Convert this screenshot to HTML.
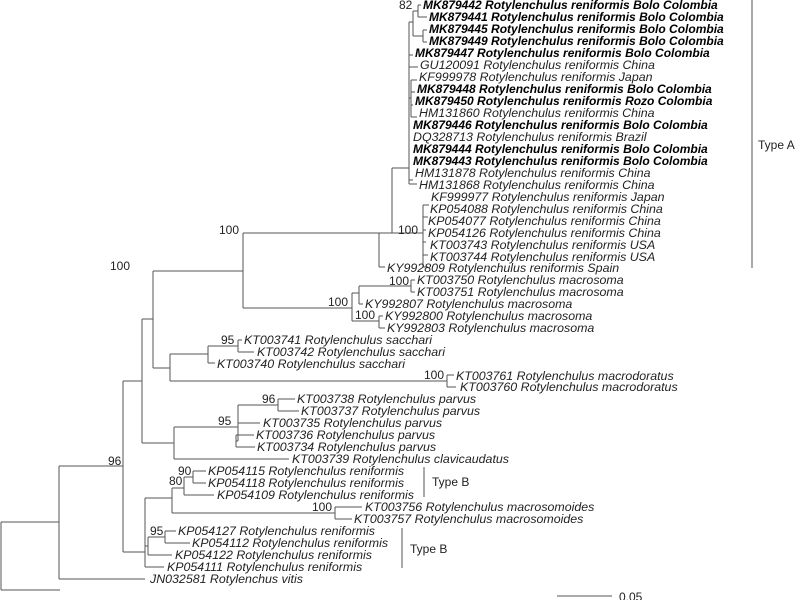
<!DOCTYPE html>
<html><head><meta charset="utf-8"><style>
html,body{margin:0;padding:0;background:#fff;width:800px;height:600px;overflow:hidden}
svg{display:block}
text{font-family:"Liberation Sans",Arial,sans-serif;font-size:12px;fill:#222}
.l{font-style:italic;font-size:12.4px}
.b{font-weight:bold;font-style:italic;fill:#000;font-size:12px}
.s{font-size:11.5px}
</style></head><body>
<svg width="800" height="600" viewBox="0 0 800 600">
<g stroke="#555" stroke-width="1" fill="none">
<path d="M1 522V590M1 522H59M1 590H60"/>
<path d="M59 466V579M59 579H145M59 466H123"/>
<path d="M123 381V552M123 381H142M123 552H145"/>
<path d="M145 498V567M145 498H172M145 546H148M145 567H164"/>
<path d="M148 537V555M148 537H165M148 555H172M165 531V543M165 531H176M165 543H190"/>
<path d="M172 488V513M172 513H335M172 488H184M335 507V519M335 507H362M335 519H352"/>
<path d="M184 477V495M184 477H193M184 495H214M193 471V483M193 471H206M193 483H206"/>
<path d="M142 319V443M142 319H153M142 443H174"/>
<path d="M174 427V459M174 427H238M174 459H289"/>
<path d="M238 405V441M238 405H278M238 423H260M236 435V447M236 441H238M236 435H254M236 447H255"/>
<path d="M278 399V411M278 399H295M278 411H299"/>
<path d="M153 271V368M153 271H243M153 368H170"/>
<path d="M170 354V381M170 381H447M170 354H208M447 375V387M447 375H454M447 387H456"/>
<path d="M208 346V363M208 346H238M208 363H215M238 340V352M238 340H242M238 352H254"/>
<path d="M243 233V308M243 308H352M243 233H423"/>
<path d="M352 293V321M352 293H359M352 321H379M359 286V304M359 286H411M359 304H363M411 280V292M411 280H415M411 292H415M379 316V328M379 316H383M379 328H385"/>
<path d="M379 233V267M379 267H385M392 168V233M392 168H409"/>
<path d="M423 205V267M423 205H429M423 217H428M423 230H426M423 242H426M423 255H428M423 267H428"/>
<path d="M409 22V184M409 184H417M409 180H413M409 55H413M409 67H418M409 98H411M411 80V117M411 80H417M411 92H415M411 105H413M411 117H417"/>
<path d="M409 22H413M413 11V36M413 11H418M413 36H423M418 5V17M418 5H421M418 17H427M423 30V42M423 30H427M423 42H427"/>
<path d="M752 0V268M424 467V497M402 528V568M557 596H612"/>
</g>
<g class="s">
<text x="399" y="9">82</text>
<text x="219" y="234">100</text>
<text x="110" y="270">100</text>
<text x="398" y="234">100</text>
<text x="389" y="285">100</text>
<text x="328" y="306">100</text>
<text x="355" y="319">100</text>
<text x="221" y="344">95</text>
<text x="424" y="379">100</text>
<text x="262" y="403">96</text>
<text x="218" y="425">95</text>
<text x="108" y="465">96</text>
<text x="178" y="475">90</text>
<text x="169" y="485">80</text>
<text x="312" y="511">100</text>
<text x="150" y="535">95</text>
<text x="758" y="149">Type A</text>
<text x="432" y="486">Type B</text>
<text x="410" y="553">Type B</text>
<text x="619" y="601">0.05</text>
</g>
<text class="b" x="423" y="9">MK879442 Rotylenchulus reniformis Bolo Colombia</text>
<text class="b" x="429" y="21">MK879441 Rotylenchulus reniformis Bolo Colombia</text>
<text class="b" x="429" y="33">MK879445 Rotylenchulus reniformis Bolo Colombia</text>
<text class="b" x="429" y="45">MK879449 Rotylenchulus reniformis Bolo Colombia</text>
<text class="b" x="415" y="57">MK879447 Rotylenchulus reniformis Bolo Colombia</text>
<text class="l" x="420" y="69">GU120091 Rotylenchulus reniformis China</text>
<text class="l" x="419" y="81">KF999978 Rotylenchulus reniformis Japan</text>
<text class="b" x="417" y="93">MK879448 Rotylenchulus reniformis Bolo Colombia</text>
<text class="b" x="415" y="105">MK879450 Rotylenchulus reniformis Rozo Colombia</text>
<text class="l" x="419" y="117">HM131860 Rotylenchulus reniformis China</text>
<text class="b" x="413" y="129">MK879446 Rotylenchulus reniformis Bolo Colombia</text>
<text class="l" x="413" y="141">DQ328713 Rotylenchulus reniformis Brazil</text>
<text class="b" x="413" y="153">MK879444 Rotylenchulus reniformis Bolo Colombia</text>
<text class="b" x="413" y="165">MK879443 Rotylenchulus reniformis Bolo Colombia</text>
<text class="l" x="415" y="177">HM131878 Rotylenchulus reniformis China</text>
<text class="l" x="419" y="189">HM131868 Rotylenchulus reniformis China</text>
<text class="l" x="431" y="201">KF999977 Rotylenchulus reniformis Japan</text>
<text class="l" x="430" y="213">KP054088 Rotylenchulus reniformis China</text>
<text class="l" x="428" y="225">KP054077 Rotylenchulus reniformis China</text>
<text class="l" x="428" y="237">KP054126 Rotylenchulus reniformis China</text>
<text class="l" x="430" y="249">KT003743 Rotylenchulus reniformis USA</text>
<text class="l" x="430" y="261">KT003744 Rotylenchulus reniformis USA</text>
<text class="l" x="387" y="272">KY992809 Rotylenchulus reniformis Spain</text>
<text class="l" x="417" y="284">KT003750 Rotylenchulus macrosoma</text>
<text class="l" x="417" y="296">KT003751 Rotylenchulus macrosoma</text>
<text class="l" x="365" y="308">KY992807 Rotylenchulus macrosoma</text>
<text class="l" x="385" y="320">KY992800 Rotylenchulus macrosoma</text>
<text class="l" x="387" y="332">KY992803 Rotylenchulus macrosoma</text>
<text class="l" x="244" y="344">KT003741 Rotylenchulus sacchari</text>
<text class="l" x="257" y="356">KT003742 Rotylenchulus sacchari</text>
<text class="l" x="217" y="368">KT003740 Rotylenchulus sacchari</text>
<text class="l" x="456" y="380">KT003761 Rotylenchulus macrodoratus</text>
<text class="l" x="460" y="391">KT003760 Rotylenchulus macrodoratus</text>
<text class="l" x="297" y="403">KT003738 Rotylenchulus parvus</text>
<text class="l" x="301" y="415">KT003737 Rotylenchulus parvus</text>
<text class="l" x="263" y="427">KT003735 Rotylenchulus parvus</text>
<text class="l" x="256" y="439">KT003736 Rotylenchulus parvus</text>
<text class="l" x="257" y="451">KT003734 Rotylenchulus parvus</text>
<text class="l" x="292" y="463">KT003739 Rotylenchulus clavicaudatus</text>
<text class="l" x="208" y="475">KP054115 Rotylenchulus reniformis</text>
<text class="l" x="208" y="487">KP054118 Rotylenchulus reniformis</text>
<text class="l" x="217" y="499">KP054109 Rotylenchulus reniformis</text>
<text class="l" x="365" y="511">KT003756 Rotylenchulus macrosomoides</text>
<text class="l" x="354" y="523">KT003757 Rotylenchulus macrosomoides</text>
<text class="l" x="178" y="535">KP054127 Rotylenchulus reniformis</text>
<text class="l" x="192" y="547">KP054112 Rotylenchulus reniformis</text>
<text class="l" x="175" y="559">KP054122 Rotylenchulus reniformis</text>
<text class="l" x="167" y="571">KP054111 Rotylenchulus reniformis</text>
<text class="l" x="150" y="583">JN032581 Rotylenchus vitis</text>
</svg>
</body></html>
